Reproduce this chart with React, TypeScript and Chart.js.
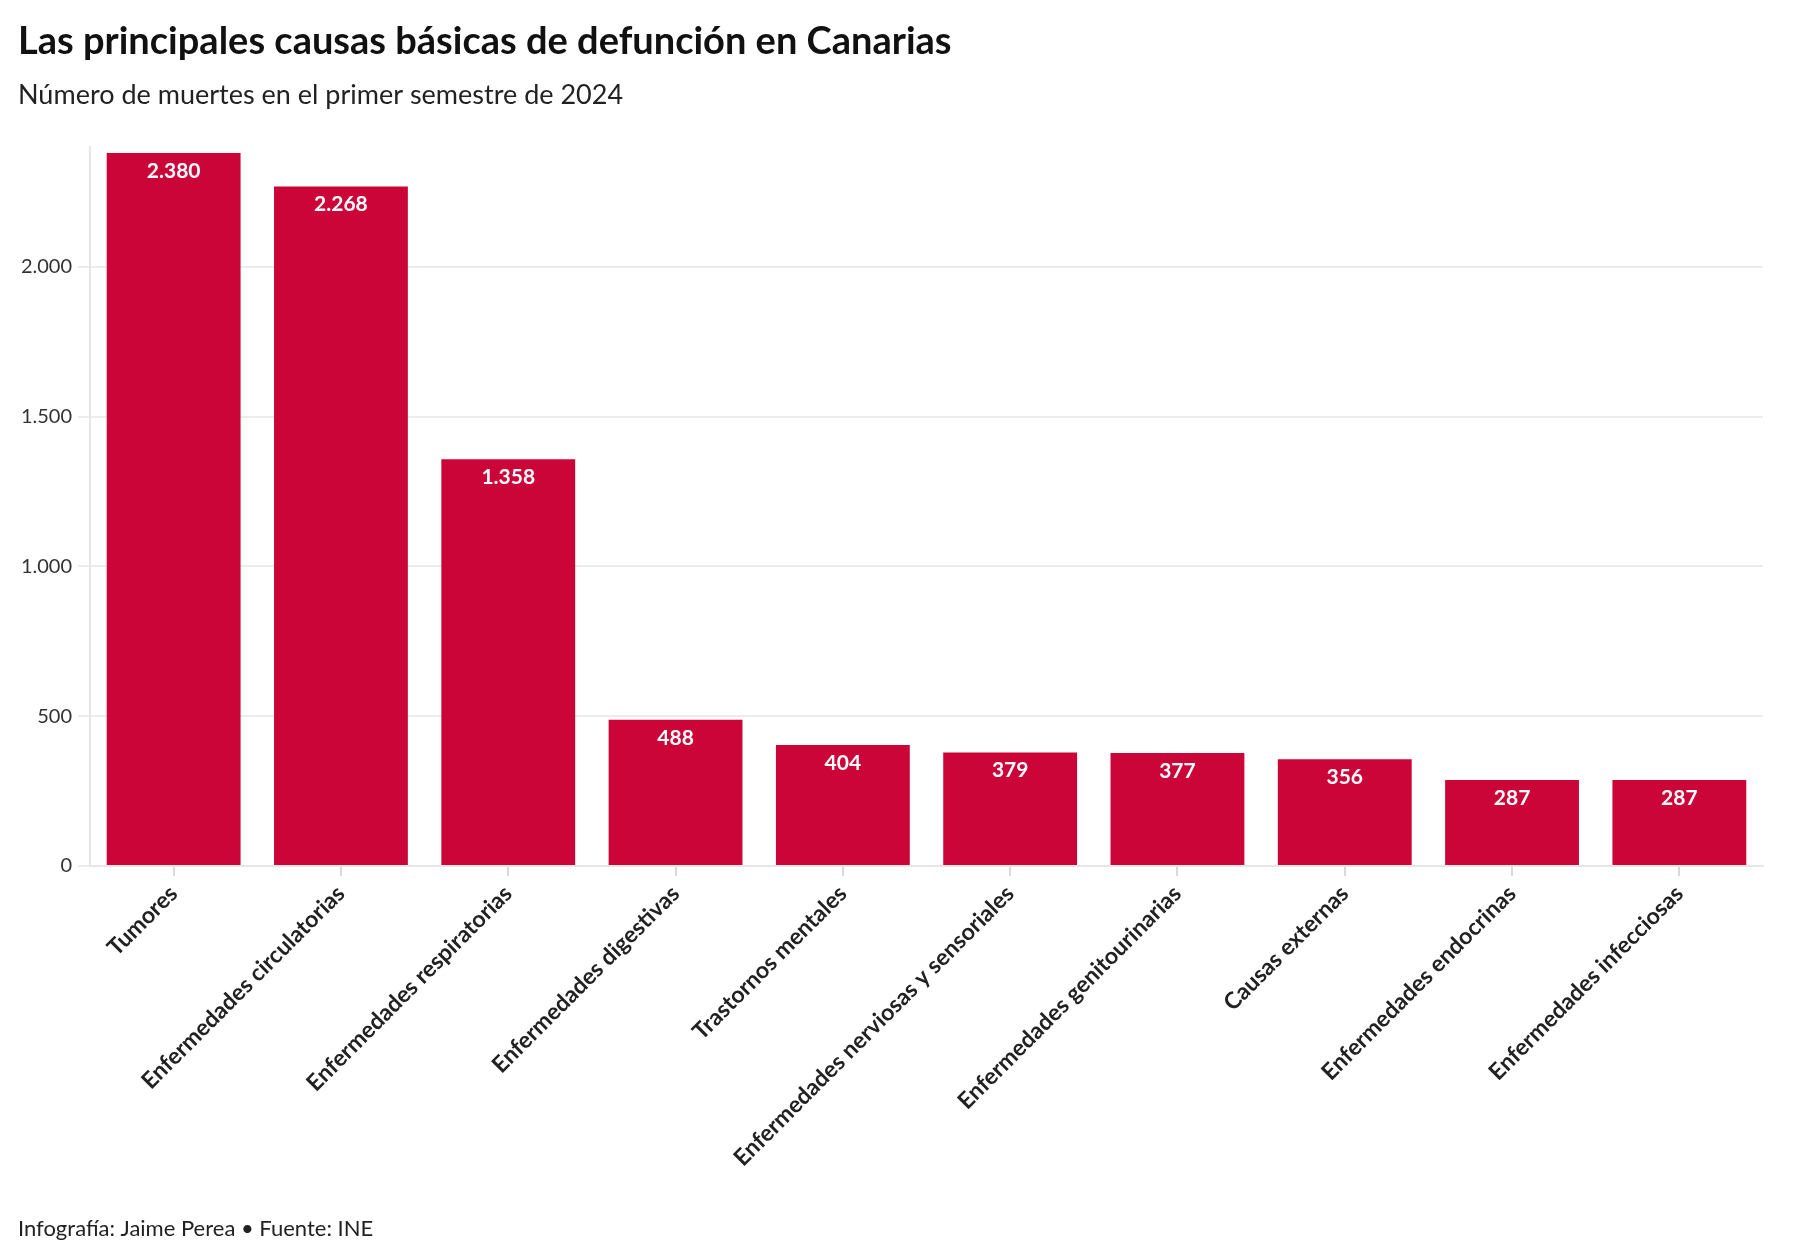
import React, { useEffect, useRef } from "react";
import { Chart, registerables } from "chart.js";

Chart.register(...registerables);

const TITLE = "Las principales causas básicas de defunción en Canarias";
const SUBTITLE = "Número de muertes en el primer semestre de 2024";
const FOOTER = "Infografía: Jaime Perea • Fuente: INE";

const categories = [
  "Tumores",
  "Enfermedades circulatorias",
  "Enfermedades respiratorias",
  "Enfermedades digestivas",
  "Trastornos mentales",
  "Enfermedades nerviosas y sensoriales",
  "Enfermedades genitourinarias",
  "Causas externas",
  "Enfermedades endocrinas",
  "Enfermedades infecciosas",
];
const deaths = [2380, 2268, 1358, 488, 404, 379, 377, 356, 287, 287];
const yTicks = [0, 500, 1000, 1500, 2000];

const FONT = "Lato, 'Open Sans', sans-serif";
const BAR_COLOR = "#cc0538";

const fmt = (v: number) => String(Math.round(v)).replace(/\B(?=(\d{3})+(?!\d))/g, ".");

const textPlugin = {
  id: "texts",
  afterDraw(chart: any) {
    const ctx = chart.ctx;
    ctx.save();
    ctx.fillStyle = "#111";
    ctx.textAlign = "left";
    ctx.textBaseline = "alphabetic";
    ctx.font = `bold 38px ${FONT}`;
    ctx.fillText(TITLE, 18, 54);
    ctx.fillStyle = "#222";
    ctx.font = `27px ${FONT}`;
    ctx.fillText(SUBTITLE, 18, 104);
    ctx.font = `22px ${FONT}`;
    ctx.fillText(FOOTER, 18, 1236);
    ctx.restore();
  },
};

const valuePlugin = {
  id: "values",
  afterDatasetsDraw(chart: any) {
    const ctx = chart.ctx;
    const meta = chart.getDatasetMeta(0);
    ctx.save();
    ctx.fillStyle = "#ffffff";
    ctx.font = `bold 21px ${FONT}`;
    ctx.textAlign = "center";
    ctx.textBaseline = "middle";
    meta.data.forEach((bar: any, i: number) => {
      ctx.fillText(fmt(deaths[i]), bar.x, bar.y + 18);
    });
    ctx.restore();
  },
};

export default function App() {
  const ref = useRef<HTMLCanvasElement | null>(null);
  useEffect(() => {
    document.body.style.margin = "0";
    const chart = new Chart(ref.current as HTMLCanvasElement, {
      type: "bar",
      data: {
        labels: categories,
        datasets: [
          {
            data: deaths,
            backgroundColor: BAR_COLOR,
            categoryPercentage: 0.8,
            barPercentage: 1.0,
          },
        ],
      },
      options: {
        animation: false,
        responsive: true,
        maintainAspectRatio: false,
        layout: { padding: { top: 147, right: 37, left: 0, bottom: 0 } },
        plugins: {
          legend: { display: false },
          tooltip: { enabled: false },
        },
        scales: {
          x: {
            grid: {
              display: true,
              drawOnChartArea: false,
              drawTicks: true,
              tickLength: 10,
              offset: false,
              color: "#d9d9d9",
              lineWidth: 2,
            },
            border: { display: true, color: "#e6e6e6", width: 2 },
            ticks: {
              maxRotation: 45,
              minRotation: 45,
              autoSkip: false,
              padding: 4,
              color: "#222",
              font: { family: FONT, size: 23, weight: "bold" },
            },
            afterFit(scale: any) {
              scale.height = 394;
            },
          },
          y: {
            min: 0,
            max: 2400,
            grid: {
              color: "#ececec",
              lineWidth: 2,
              tickLength: 12,
              drawTicks: true,
            },
            border: { display: true, color: "#e6e6e6", width: 2 },
            ticks: {
              padding: 6,
              color: "#333",
              font: { family: FONT, size: 20 },
              callback: (v: any) => fmt(Number(v)),
            },
            afterBuildTicks(scale: any) {
              scale.ticks = yTicks.map((v) => ({ value: v }));
            },
            afterFit(scale: any) {
              scale.width = 90;
            },
          },
        },
      },
      plugins: [textPlugin, valuePlugin],
    } as any);
    return () => chart.destroy();
  }, []);
  return (
    <div style={{ position: "absolute", left: 0, top: 0, width: 1800, height: 1260, background: "#fff" }}>
      <canvas ref={ref} />
    </div>
  );
}
